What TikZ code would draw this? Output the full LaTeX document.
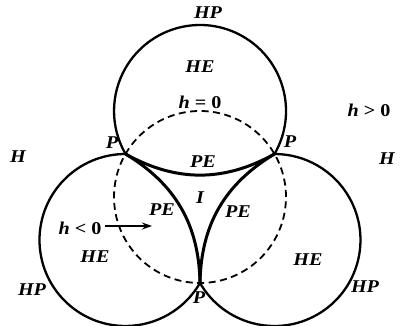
\documentclass[tikz,border=0pt]{standalone}
\usepackage{fontspec}
\setmainfont{Liberation Serif}[FakeStretch=1.12]
\usetikzlibrary{arrows.meta}
\begin{document}
\begin{tikzpicture}[x=1pt,y=1pt,
  outer/.style={line width=2.3pt},
  inner/.style={line width=3pt},
  dcirc/.style={line width=1.8pt, dash pattern=on 7pt off 4.5pt},
  lbl/.style={font=\fontsize{18}{20}\selectfont\bfseries\itshape, inner sep=0pt},
  hlbl/.style={font=\fontsize{18}{20}\selectfont\bfseries, inner sep=0pt},
  arr/.style={line width=1.8pt, -{Stealth[length=10pt,width=7pt]}}
]
\useasboundingbox (0,0) rectangle (400,326);
\coordinate (O) at (200,129);
\coordinate (P1) at (125.5,172);
\coordinate (P2) at (274.5,172);
\coordinate (P3) at (200,43);
% outer arcs
\draw[outer] (P2) arc[start angle=-30, end angle=210, radius=86];
\draw[outer] (P1) arc[start angle=90, end angle=330, radius=86];
\draw[outer] (P3) arc[start angle=210, end angle=450, radius=86];
% dashed circle
\draw[dcirc] (O) circle[radius=86];
% inner arcs
\draw[inner] (P1) to[bend right=29] (P2);
\draw[inner] (P2) to[bend right=29] (P3);
\draw[inner] (P3) to[bend right=29] (P1);
% labels
\node[lbl] (hpT) at (208,313) {HP};
\node[lbl] (heT) at (200,259) {HE};
\node[hlbl] (h0) at (200,224) {\textit{h} = 0};
\node[hlbl] (hgt) at (369,216) {\textit{h} > 0};
\node[lbl] (pA) at (112,183) {P};
\node[lbl] (pB) at (290,184) {P};
\node[lbl] (pC) at (199,28) {P};
\node[lbl] (hL) at (18,169) {H};
\node[lbl] (hR) at (387,167) {H};
\node[lbl] (peT) at (203,164) {PE};
\node[lbl] (iI) at (200,128) {I};
\node[lbl] (peL) at (162,116) {PE};
\node[lbl] (peR) at (238,114) {PE};
\node[hlbl] (hlt) at (80,98) {\textit{h} < 0};
\coordinate (arrEnd) at (152,100);
\draw[arr] ([xshift=3pt]hlt.east |- 0,100) -- (arrEnd);
\node[lbl] (heL) at (95,69) {HE};
\node[lbl] (heR) at (308,66) {HE};
\node[lbl] (hpL) at (32,36) {HP};
\node[lbl] (hpR) at (365,39) {HP};
\end{tikzpicture}
\end{document}
